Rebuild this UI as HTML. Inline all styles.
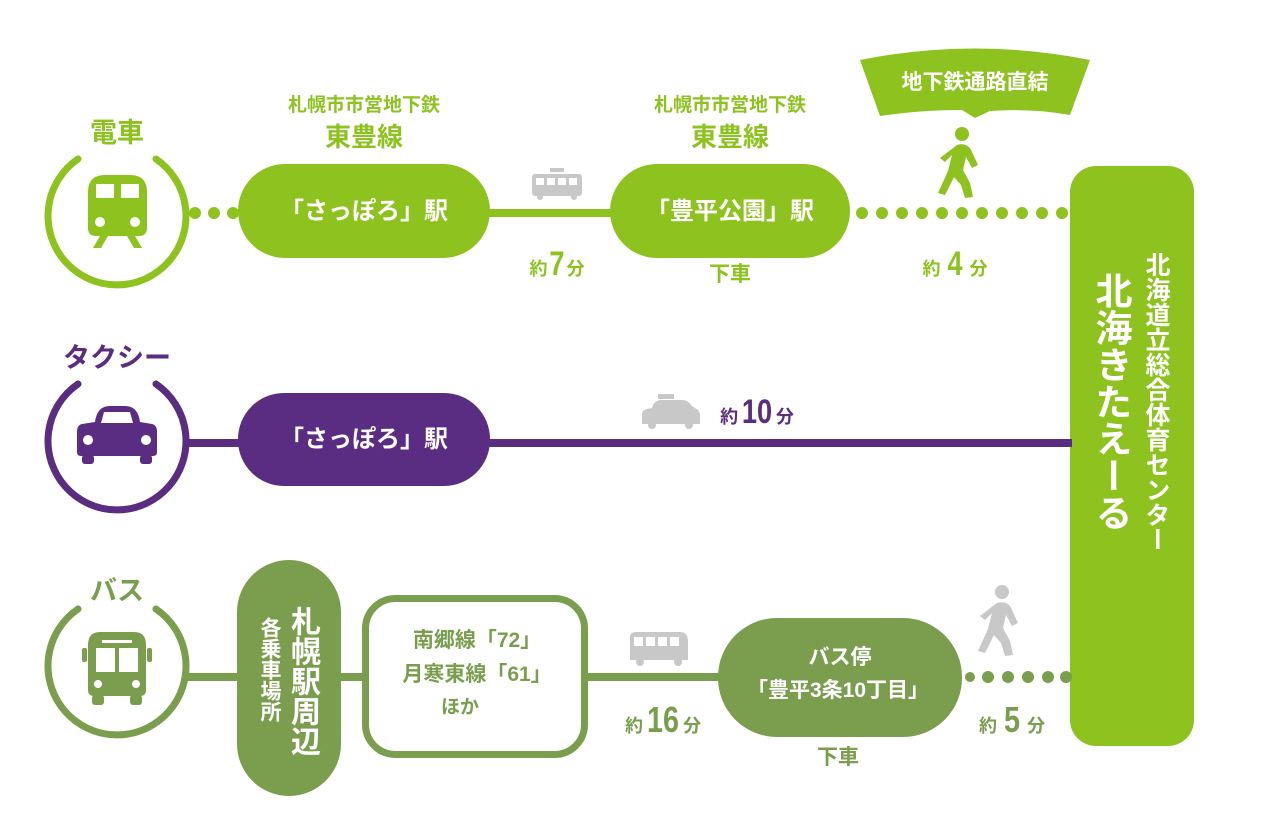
<!DOCTYPE html>
<html><head><meta charset="utf-8"><style>
html,body{margin:0;padding:0;background:#fff}
body{width:1261px;height:836px;position:relative;overflow:hidden;font-family:"Liberation Sans","Noto Sans CJK JP",sans-serif;font-weight:bold}
svg{position:absolute;left:0;top:0}
.t{position:absolute;white-space:nowrap;text-align:center;transform:translateX(-50%);line-height:1}
.v{position:absolute;writing-mode:vertical-rl;line-height:1;white-space:nowrap}
.n{display:inline-block;transform:scaleX(0.8);font-family:"Liberation Sans Narrow","Liberation Sans",sans-serif}
</style></head><body>
<svg width="1261" height="836" viewBox="0 0 1261 836">
<g fill="none" stroke-width="7" stroke-linecap="round">
<path d="M156,159 A69,69 0 1 1 78,159" stroke="#8dc21f"/>
<path d="M156,384 A69,69 0 1 1 78,384" stroke="#5a2d82"/>
<path d="M156,609 A69,69 0 1 1 78,609" stroke="#7a9e4e"/>
</g>
<g fill="#8dc21f">
<circle cx="195" cy="213" r="6"/><circle cx="214" cy="213" r="6"/><circle cx="233" cy="213" r="6"/>
<rect x="238" y="164" width="252" height="94" rx="47"/>
<rect x="488" y="209" width="124" height="8"/>
<rect x="610" y="164" width="240" height="94" rx="47"/>
<circle cx="862" cy="213" r="6"/><circle cx="882" cy="213" r="6"/><circle cx="902" cy="213" r="6"/><circle cx="922" cy="213" r="6"/><circle cx="942" cy="213" r="6"/><circle cx="962" cy="213" r="6"/><circle cx="982" cy="213" r="6"/><circle cx="1002" cy="213" r="6"/><circle cx="1022" cy="213" r="6"/><circle cx="1042" cy="213" r="6"/><circle cx="1062" cy="213" r="6"/>
<rect x="1070" y="166" width="124" height="580" rx="26"/>
<path d="M860,60 Q975,37 1090,60 L1070,115 Q1030,108 990,111 L975,118 L962,110 Q920,110 880,116 Z"/>
<path d="M88,192 Q88,175 105,175 L130,175 Q147,175 147,192 L147,228 Q147,236 139,236 L96,236 Q88,236 88,228 Z"/>
<path d="M100,236 L93,248 L101,248 L108,236 Z M135,236 L142,248 L134,248 L127,236 Z"/>
<circle cx="962" cy="134" r="7"/>
<path d="M957,145 Q968,142 972,152 L978,165 L972,168 L966,157 L963,170 L970,183 L973,197 L965,198 L961,185 L954,177 L945,195 L938,193 L948,171 L952,155 L945,162 L940,158 Z"/>
</g>
<g fill="#fff"><rect x="96" y="184" width="18" height="14"/><rect x="121" y="184" width="18" height="14"/><circle cx="100" cy="222" r="5"/><circle cx="135" cy="222" r="5"/></g>
<g fill="#c8c8c8">
<rect x="532" y="174" width="50" height="22" rx="3"/><rect x="550" y="168" width="14" height="4"/>
<circle cx="540" cy="197" r="3"/><circle cx="574" cy="197" r="3"/>
</g>
<g fill="#fff"><rect x="536" y="178" width="8" height="7"/><rect x="547" y="178" width="8" height="7"/><rect x="558" y="178" width="8" height="7"/><rect x="569" y="178" width="8" height="7"/></g>
<g fill="#5a2d82">
<rect x="187" y="439" width="885" height="8"/>
<rect x="238" y="393" width="252" height="93" rx="46"/>
<path d="M95,422 Q97,406 110,406 L125,406 Q138,406 140,422 L152,424 Q157,425 157,432 L157,452 Q157,456 153,456 L81,456 Q77,456 77,452 L77,432 Q77,425 82,424 Z"/>
<rect x="82" y="455" width="12" height="9" rx="3"/><rect x="140" y="455" width="12" height="9" rx="3"/>
</g>
<g fill="#fff"><path d="M101,423 L104,412 L130,412 L133,423 Z"/><circle cx="88" cy="440" r="5"/><circle cx="146" cy="440" r="5"/></g>
<g fill="#c8c8c8">
<path d="M652,408 Q654,400 662,400 L682,400 Q688,400 692,406 L698,410 Q700,412 700,416 L700,424 L642,424 L642,414 Q642,409 652,408 Z"/>
<rect x="658" y="394" width="16" height="5"/><circle cx="652" cy="425" r="4"/><circle cx="689" cy="425" r="4"/>
</g>
<g fill="#7a9e4e">
<rect x="187" y="673" width="55" height="8"/>
<rect x="237" y="560" width="104" height="236" rx="52"/>
<rect x="339" y="673" width="26" height="8"/>
<rect x="365.5" y="598.5" width="219" height="156" rx="30" fill="#fff" stroke="#7a9e4e" stroke-width="7"/>
<rect x="586" y="673" width="136" height="8"/>
<rect x="718" y="618" width="244" height="119" rx="59"/>
<circle cx="970" cy="677" r="5"/><circle cx="988" cy="677" r="6"/><circle cx="1008" cy="677" r="6"/><circle cx="1028" cy="677" r="6"/><circle cx="1048" cy="677" r="6"/><circle cx="1066" cy="677" r="6"/>
<path d="M88,645 Q88,632 100,632 L134,632 Q146,632 146,645 L146,690 Q146,696 140,696 L94,696 Q88,696 88,690 Z"/>
<rect x="82" y="648" width="5" height="14" rx="2"/><rect x="147" y="648" width="5" height="14" rx="2"/>
<rect x="92" y="695" width="12" height="10" rx="3"/><rect x="130" y="695" width="12" height="10" rx="3"/>
</g>
<g fill="#fff"><rect x="96" y="648" width="19" height="24"/><rect x="119" y="648" width="19" height="24"/><rect x="102" y="640" width="30" height="3"/><circle cx="98" cy="684" r="4"/><circle cx="136" cy="684" r="4"/></g>
<g fill="#c8c8c8">
<path d="M630,637 Q630,632 636,632 L680,632 Q688,632 688,642 L688,660 L630,660 Z"/>
<circle cx="640" cy="662" r="4"/><circle cx="678" cy="662" r="4"/>
<circle cx="1002" cy="592" r="7"/>
<path d="M997,603 Q1008,600 1012,610 L1018,623 L1012,626 L1006,615 L1003,628 L1010,641 L1013,655 L1005,656 L1001,643 L994,635 L985,653 L978,651 L988,629 L992,613 L985,620 L980,616 Z"/>
</g>
<g fill="#fff"><rect x="634" y="637" width="9" height="9"/><rect x="646" y="637" width="9" height="9"/><rect x="658" y="637" width="9" height="9"/><rect x="670" y="637" width="9" height="9"/></g>
</svg>

<div class="t" style="left:117px;top:120px;font-size:27px;color:#8dc21f">電車</div>
<div class="t" style="left:117px;top:345px;font-size:27px;color:#5a2d82">タクシー</div>
<div class="t" style="left:117px;top:578px;font-size:27px;color:#7a9e4e">バス</div>

<div class="t" style="left:364px;top:96px;font-size:19px;color:#8dc21f">札幌市市営地下鉄</div>
<div class="t" style="left:364px;top:124px;font-size:26px;color:#8dc21f">東豊線</div>
<div class="t" style="left:730px;top:96px;font-size:19px;color:#8dc21f">札幌市市営地下鉄</div>
<div class="t" style="left:730px;top:124px;font-size:26px;color:#8dc21f">東豊線</div>
<div class="t" style="left:364px;top:200px;font-size:24px;color:#fff">「さっぽろ」駅</div>
<div class="t" style="left:730px;top:200px;font-size:24px;color:#fff">「豊平公園」駅</div>
<div class="t" style="left:975px;top:72px;font-size:21px;color:#fff">地下鉄通路直結</div>
<div class="t" style="left:557px;top:247px;font-size:18px;color:#8dc21f">約<span class="n" style="font-size:34px">7</span>分</div>
<div class="t" style="left:730px;top:264px;font-size:21px;color:#8dc21f">下車</div>
<div class="t" style="left:955px;top:247px;font-size:18px;color:#8dc21f">約 <span class="n" style="font-size:34px">4</span> 分</div>

<div class="t" style="left:364px;top:428px;font-size:24px;color:#fff">「さっぽろ」駅</div>
<div class="t" style="left:757px;top:395px;font-size:18px;color:#5a2d82">約<span class="n" style="font-size:34px">10</span>分</div>

<div class="v" style="left:287px;top:606px;font-size:30px;color:#fff">札幌駅周辺</div>
<div class="v" style="left:259px;top:617px;font-size:21px;color:#fff">各乗車場所</div>
<div class="t" style="left:477px;top:630px;font-size:21px;color:#7a9e4e">南郷線「72」</div>
<div class="t" style="left:477px;top:664px;font-size:21px;color:#7a9e4e">月寒東線「61」</div>
<div class="t" style="left:460px;top:698px;font-size:19px;color:#7a9e4e">ほか</div>
<div class="t" style="left:840px;top:647px;font-size:21px;color:#fff">バス停</div>
<div class="t" style="left:838px;top:680px;font-size:21px;color:#fff">「豊平3条10丁目」</div>
<div class="t" style="left:663px;top:702px;font-size:18px;color:#7a9e4e">約<span class="n" style="font-size:36px">16</span>分</div>
<div class="t" style="left:838px;top:747px;font-size:21px;color:#7a9e4e">下車</div>
<div class="t" style="left:1012px;top:702px;font-size:18px;color:#7a9e4e">約 <span class="n" style="font-size:36px">5</span> 分</div>

<div class="v" style="left:1143px;top:252px;font-size:25px;color:#fff">北海道立総合体育センター</div>
<div class="v" style="left:1092px;top:272px;font-size:37px;color:#fff">北海きたえーる</div>
</body></html>
